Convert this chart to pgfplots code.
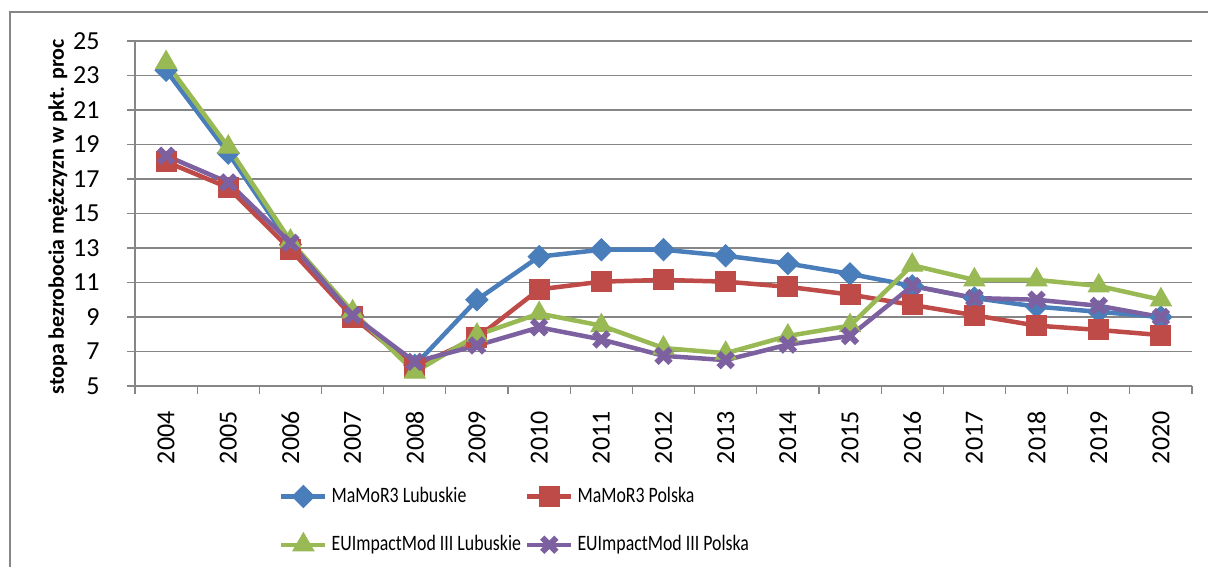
\documentclass[border=0pt]{standalone}
\usepackage{fontspec}
\setmainfont{Carlito}
\newfontfamily\legfont[FakeStretch=0.81]{Carlito}
\usepackage{pgfplots}
\pgfplotsset{compat=1.18}
\definecolor{cblue}{HTML}{4A7EBB}
\definecolor{cred}{HTML}{BE4B48}
\definecolor{cgreen}{HTML}{98B954}
\definecolor{cpurple}{HTML}{7D60A0}
\definecolor{gridgray}{HTML}{868686}
\begin{document}
\begin{tikzpicture}
\useasboundingbox (0,0) rectangle (604pt,283.5pt);
\draw[gridgray, line width=0.6pt] (5pt,0) -- (5pt,277.5pt) -- (604pt,277.5pt);
\begin{axis}[
  at={(67.5pt,90.5pt)}, anchor=south west,
  scale only axis, width=528.5pt, height=172.5pt,
  xmin=-0.5, xmax=16.5, ymin=5, ymax=25,
  ytick={5,7,9,11,13,15,17,19,21,23,25},
  xtick={-0.5,0.5,1.5,2.5,3.5,4.5,5.5,6.5,7.5,8.5,9.5,10.5,11.5,12.5,13.5,14.5,15.5,16.5},
  x tick label as interval,
  xticklabels={2004,2005,2006,2007,2008,2009,2010,2011,2012,2013,2014,2015,2016,2017,2018,2019,2020},
  /pgf/number format/assume math mode=true,
  axis lines*=left,
  x axis line style={gridgray, line width=1pt},
  y axis line style={gridgray, line width=0.6pt},
  tick align=outside,
  major tick length=4pt,
  tick style={gridgray, line width=0.6pt},
  ymajorgrids,
  major grid style={gridgray, line width=0.6pt},
  xticklabel style={rotate=90, anchor=east, inner sep=0pt, font=\fontsize{13}{15}\selectfont},
  xticklabel shift=8.5pt,
  yticklabel style={anchor=east, inner sep=0pt, font=\fontsize{13}{15}\selectfont},
  yticklabel shift=13.5pt,
  ylabel={stopa bezrobocia mężczyzn w pkt. proc},
  ylabel style={at={(axis description cs:-0.0728,0.49)}, anchor=center, font=\bfseries\fontsize{11}{13}\selectfont},
  legend columns=2,
  legend cell align=left,
  legend style={at={(axis description cs:0.136,-0.281)}, anchor=north west, draw=none, fill=none, inner sep=0pt,
    font=\legfont\fontsize{11}{13}\selectfont, row sep=11pt,
    /tikz/every even column/.append style={column sep=0pt}},
  legend image code/.code={\draw[mark repeat=2,mark phase=2,#1] plot coordinates {(0pt,0pt) (11pt,0pt) (22pt,0pt)};},
  every axis plot/.append style={line width=2.25pt},
]
\addplot[cblue, mark=square*, mark size=3.9pt, mark options={rotate=45, line width=0.5pt, fill=cblue}] coordinates {
(0,23.3) (1,18.5) (2,13.2) (3,9.1) (4,6.2) (5,10.0) (6,12.5) (7,12.9) (8,12.9) (9,12.55) (10,12.1) (11,11.5) (12,10.8) (13,10.1) (14,9.6) (15,9.3) (16,9.0)};
\addlegendentry{MaMoR3 Lubuskie}
\addplot[cred, mark=square*, mark size=5pt, mark options={line width=0.5pt, fill=cred}] coordinates {
(0,18.0) (1,16.5) (2,12.9) (3,9.0) (4,6.1) (5,7.8) (6,10.6) (7,11.05) (8,11.15) (9,11.05) (10,10.75) (11,10.3) (12,9.7) (13,9.1) (14,8.5) (15,8.25) (16,7.95)};
\addlegendentry{MaMoR3 Polska}
\addplot[cgreen, mark=triangle*, mark size=6pt, mark options={line width=0.5pt, fill=cgreen}] coordinates {
(0,23.75) (1,18.85) (2,13.4) (3,9.3) (4,5.8) (5,7.95) (6,9.2) (7,8.5) (8,7.2) (9,6.9) (10,7.9) (11,8.5) (12,12.0) (13,11.15) (14,11.15) (15,10.8) (16,10.0)};
\addlegendentry{EUImpactMod III Lubuskie}
\addplot[cpurple, mark=x, mark size=5pt, mark options={line width=3pt}] coordinates {
(0,18.35) (1,16.8) (2,13.3) (3,9.1) (4,6.4) (5,7.35) (6,8.4) (7,7.7) (8,6.75) (9,6.5) (10,7.4) (11,7.9) (12,10.8) (13,10.1) (14,10.0) (15,9.65) (16,9.0)};
\addlegendentry{EUImpactMod III Polska}
\end{axis}
\end{tikzpicture}
\end{document}
